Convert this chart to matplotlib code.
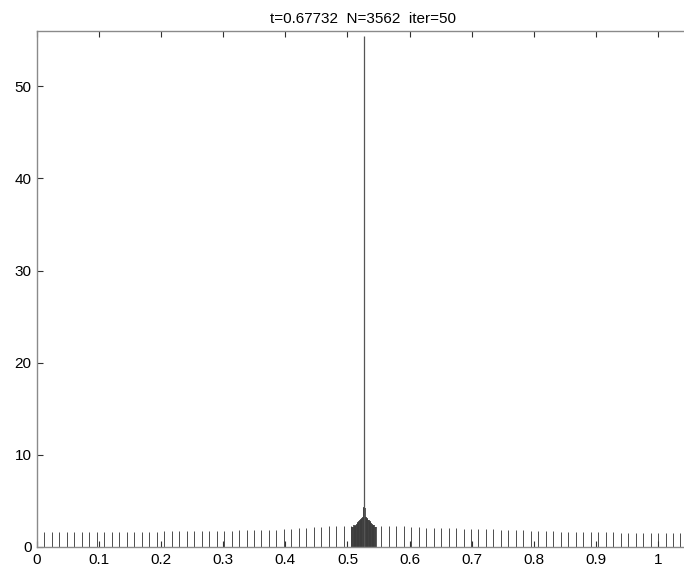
import numpy as np
import matplotlib
matplotlib.use("Agg")
import matplotlib.pyplot as plt

plt.rcParams["font.family"] = ["Liberation Sans", "DejaVu Sans"]

title = "t=0.67732  N=3562  iter=50"

# regular mesh nodes (coarse part of the grid)
grid_step = 0.01205
left_idx = list(range(1, 43))
left_vals = [1.58, 1.58, 1.58, 1.58, 1.58, 1.58, 1.59, 1.59,
             1.60, 1.61, 1.62, 1.63, 1.64, 1.65, 1.66, 1.67,
             1.69, 1.70, 1.72, 1.73, 1.74, 1.75, 1.76, 1.77,
             1.78, 1.79, 1.80, 1.82, 1.83, 1.84, 1.86, 1.88,
             1.95, 2.00, 2.05, 2.10, 2.15, 2.20, 2.25, 2.30, 2.30, 2.25]
right_idx = list(range(46, 87))
right_vals = [2.30, 2.30, 2.28, 2.25, 2.20,
              2.15, 2.10, 2.08, 2.05, 2.05, 2.02, 2.00, 2.00,
              1.95, 1.92, 1.90, 1.88, 1.85, 1.82, 1.80, 1.78,
              1.75, 1.72, 1.70, 1.68, 1.66, 1.64, 1.62, 1.60,
              1.59, 1.58, 1.58, 1.57, 1.57, 1.56, 1.56, 1.56, 1.55, 1.55, 1.55, 1.55]

# refined nodes around the front
cluster_x = [0.5080, 0.5092, 0.5104, 0.5116, 0.5128, 0.5140, 0.5152, 0.5164,
             0.5176, 0.5188, 0.5200, 0.5212, 0.5224, 0.5236, 0.5248, 0.5260,
             0.5272, 0.5284, 0.5296, 0.5308, 0.5320, 0.5332, 0.5344, 0.5356,
             0.5368, 0.5380, 0.5392, 0.5404, 0.5416, 0.5428, 0.5440, 0.5452]
cluster_vals = [2.15, 2.20, 2.40, 2.30, 2.30, 2.40, 2.50, 2.60,
                2.70, 2.85, 2.90, 2.95, 3.00, 3.10, 3.30, 4.20,
                4.30, 4.20, 3.30, 3.10, 3.00, 2.95, 2.90, 2.85,
                2.70, 2.60, 2.50, 2.40, 2.30, 2.40, 2.20, 2.15]

spike_x = 0.527
spike_val = 55.5

xticks = [0, 0.1, 0.2, 0.3, 0.4, 0.5, 0.6, 0.7, 0.8, 0.9, 1]
xticklabels = ["0", "0.1", "0.2", "0.3", "0.4", "0.5", "0.6", "0.7", "0.8", "0.9", "1"]
yticks = [0, 10, 20, 30, 40, 50]

fig = plt.figure(figsize=(6.84, 5.68), dpi=100)
W, H = 684, 568
ax = fig.add_axes([37 / W, 21 / H, 652 / W, 516 / H])

xl = np.array(left_idx) * grid_step
xr = np.array(right_idx) * grid_step
ax.vlines(xl, 0, left_vals, color="#303030", linewidth=0.6)
ax.vlines(xr, 0, right_vals, color="#303030", linewidth=0.6)
ax.vlines(cluster_x, 0, cluster_vals, color="#3c3c3c", linewidth=1.2)
ax.vlines([spike_x], 0, [spike_val], color="#555555", linewidth=0.9)

ax.set_xlim(0, 1.05)
ax.set_ylim(0, 56)
ax.set_xticks(xticks)
ax.set_xticklabels(xticklabels)
ax.set_yticks(yticks)

for side in ("left", "bottom", "top"):
    ax.spines[side].set_color("#8a8a8a")
    ax.spines[side].set_linewidth(1.0)
ax.spines["right"].set_visible(False)

ax.tick_params(axis="both", direction="in", length=4, width=0.8,
               color="#303030", labelsize=11, labelcolor="black")
ax.tick_params(axis="x", top=True, pad=4.5)
ax.tick_params(axis="y", right=False, pad=4)

ax.set_title(title, fontsize=11, pad=6)

fig.savefig("out.png", dpi=100)
